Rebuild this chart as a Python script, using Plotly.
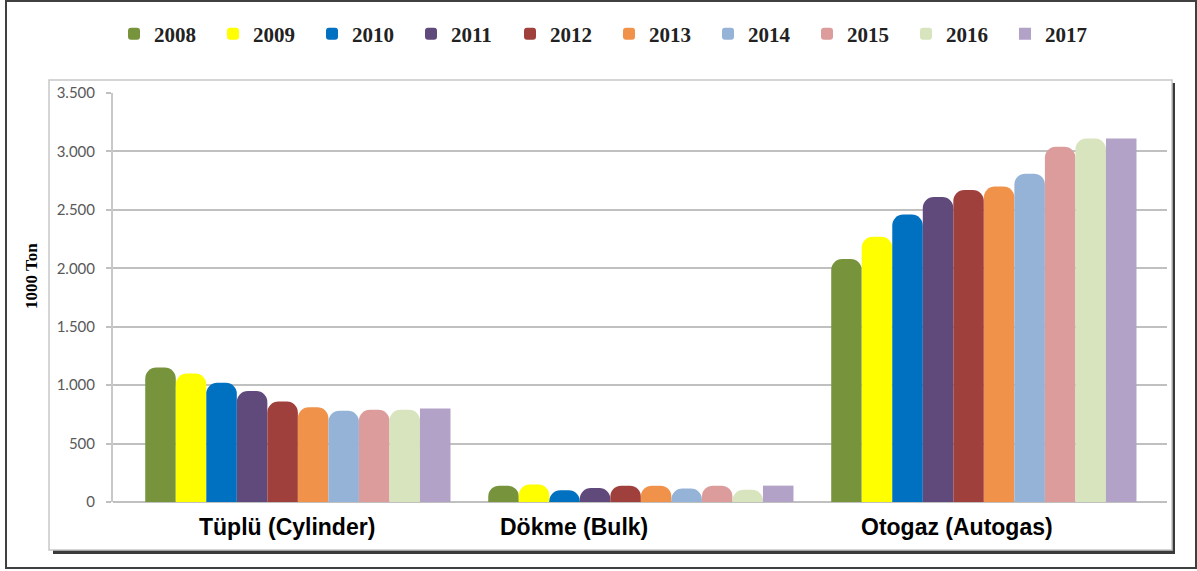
import plotly.graph_objects as go

categories = ["Tüplü (Cylinder)", "Dökme (Bulk)", "Otogaz (Autogas)"]
years = ["2008", "2009", "2010", "2011", "2012", "2013", "2014", "2015", "2016", "2017"]
v2008 = [1150, 140, 2080]
v2009 = [1100, 150, 2270]
v2010 = [1020, 100, 2460]
v2011 = [950, 120, 2610]
v2012 = [860, 140, 2670]
v2013 = [810, 140, 2700]
v2014 = [780, 115, 2810]
v2015 = [790, 140, 3040]
v2016 = [790, 105, 3110]
v2017 = [800, 140, 3110]
series = [v2008, v2009, v2010, v2011, v2012, v2013, v2014, v2015, v2016, v2017]
colors = ["#77933C", "#FFFF00", "#0070C0", "#604A7B", "#A0403C",
          "#F0924A", "#95B3D7", "#DC9C9B", "#D7E4BD", "#B3A2C7"]
label_shift = [-11, -67, -27]

fig = go.Figure()
for y, vals, col in zip(years, series, colors):
    fig.add_trace(go.Bar(
        x=categories, y=vals, name=y,
        marker=dict(color=col, line=dict(width=0),
                    cornerradius=0 if y == "2017" else 11),
    ))

W, H = 1197, 571
ml, mr, mt, mb = 113, 30, 93, 69
pw, ph = W - ml - mr, H - mt - mb

def px(x):
    return (x - ml) / pw

def py(y):
    return (H - mb - y) / ph

shapes = [
    # outer frame
    dict(type="rect", xref="paper", yref="paper", layer="below",
         x0=px(6), x1=px(1196), y0=py(568), y1=py(1),
         line=dict(color="#404040", width=2), fillcolor="rgba(0,0,0,0)"),
    # shadow of inner box
    dict(type="rect", xref="paper", yref="paper", layer="below",
         x0=px(53), x1=px(1175), y0=py(554), y1=py(83),
         line=dict(width=0), fillcolor="#3a3a3a"),
    # inner box
    dict(type="rect", xref="paper", yref="paper", layer="below",
         x0=px(49), x1=px(1172), y0=py(550), y1=py(80),
         line=dict(color="#C8C8C8", width=1.5), fillcolor="white"),
]

annotations = []
for c, s in zip(categories, label_shift):
    annotations.append(dict(
        x=c, y=0, xref="x", yref="y", text=c, showarrow=False,
        yanchor="top", yshift=-10, xshift=s,
        font=dict(family="Liberation Sans, Arial", size=23, color="black", weight="bold"),
    ))
annotations.append(dict(
    x=px(31), y=py(276), xref="paper", yref="paper", text="1000 Ton",
    showarrow=False, textangle=-90, xanchor="center", yanchor="middle",
    font=dict(family="Liberation Serif, Times New Roman", size=17,
              color="black", weight="bold"),
))

fig.update_layout(
    width=W, height=H,
    margin=dict(l=ml, r=mr, t=mt, b=mb, autoexpand=False),
    paper_bgcolor="white", plot_bgcolor="rgba(0,0,0,0)",
    barmode="group", bargap=0.11, bargroupgap=0,
    separators=",.",
    shapes=shapes,
    annotations=annotations,
    showlegend=True,
    legend=dict(
        orientation="h", x=px(114), y=py(34), xanchor="left", yanchor="middle",
        entrywidth=54, entrywidthmode="pixels", itemwidth=30,
        font=dict(family="Liberation Serif, Times New Roman", size=21, color="#222222", weight="bold"),
        bgcolor="rgba(0,0,0,0)", traceorder="normal",
    ),
    xaxis=dict(showticklabels=False, showgrid=False, zeroline=False,
               showline=False, ticks="", range=[-0.539, 2.534]),
    yaxis=dict(
        range=[0, 3500], dtick=500, tickformat=",.0f",
        showgrid=True, gridcolor="#C0C0C0", gridwidth=2,
        zeroline=True, zerolinecolor="#C0C0C0", zerolinewidth=2,
        showline=True, linecolor="#C8C8C8", linewidth=2,
        ticks="outside", ticklen=5, tickcolor="#C0C0C0", tickwidth=2,
        ticklabelstandoff=8,
        tickfont=dict(family="Lato, Liberation Sans", size=15, color="#595959"),
    ),
)

fig.write_html("out.html",
               config={"displayModeBar": False},
               post_script="document.body.style.margin='0';document.body.style.overflow='hidden';")
